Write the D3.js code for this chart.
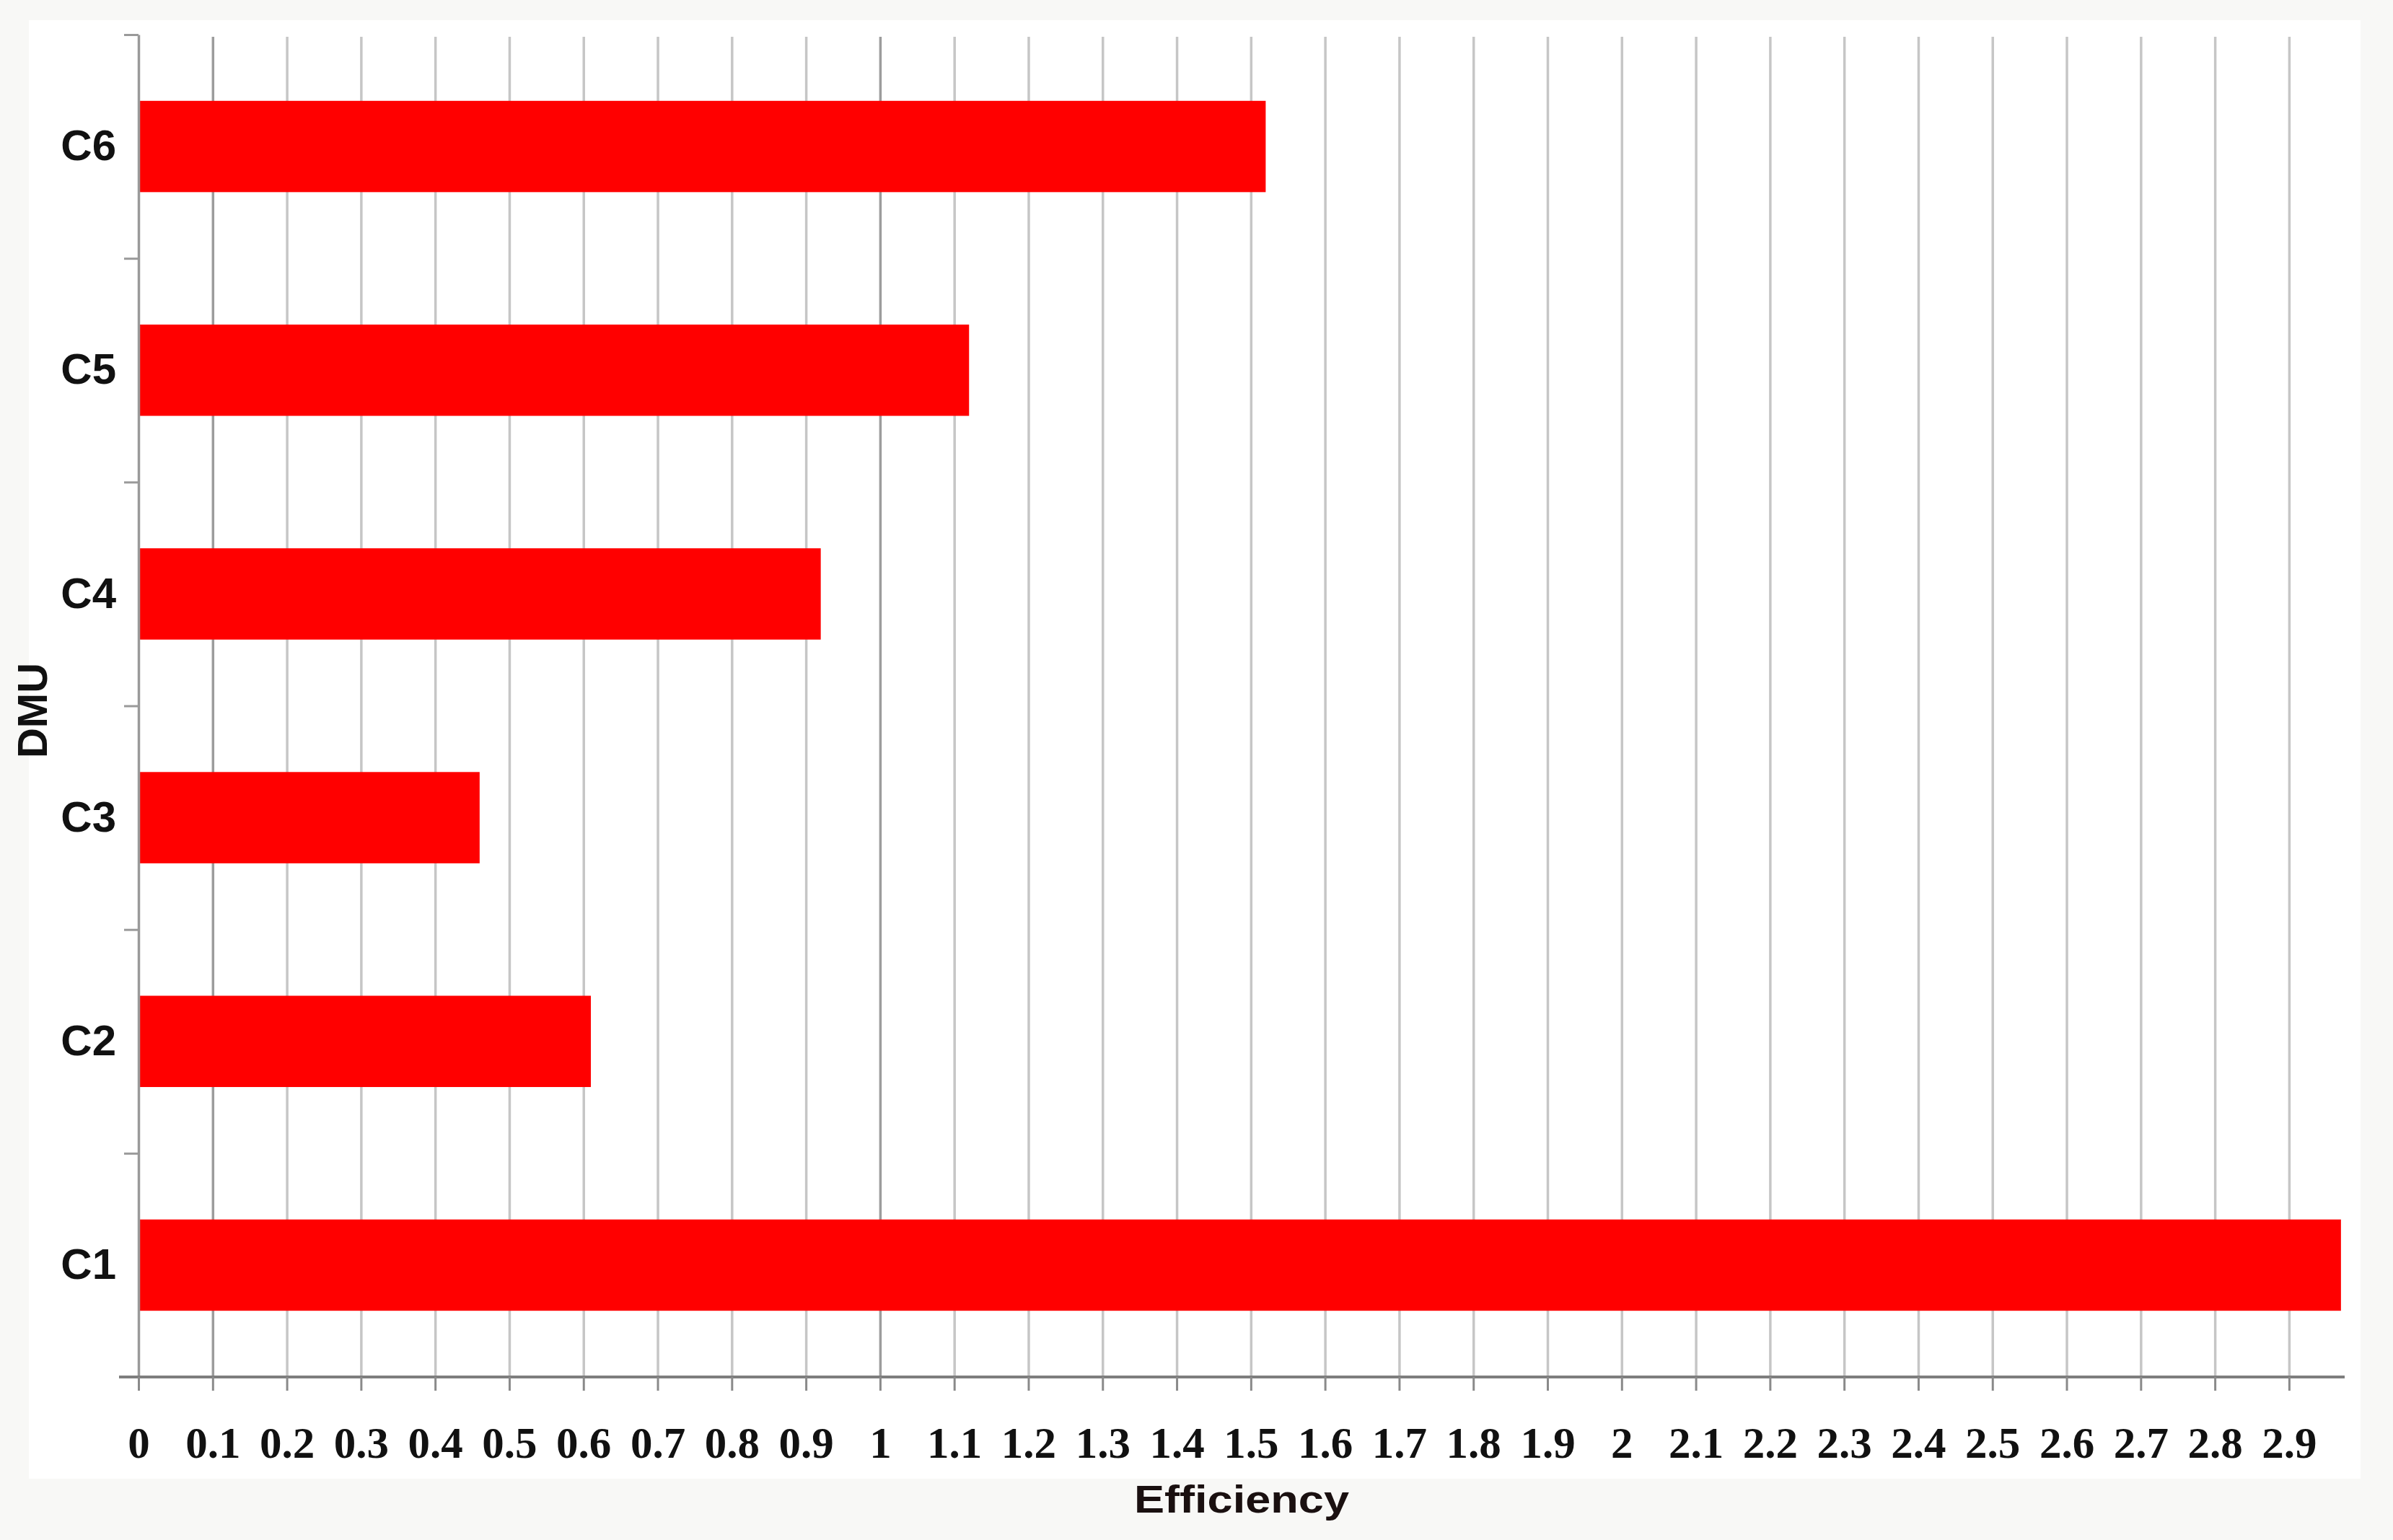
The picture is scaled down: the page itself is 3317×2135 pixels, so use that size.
<!DOCTYPE html>
<html>
<head>
<meta charset="utf-8">
<script src="https://cdn.jsdelivr.net/npm/d3@7"></script>
<style>
  html, body { margin: 0; padding: 0; background: #f8f8f6; }
  svg { display: block; }
</style>
</head>
<body>
<script>
// data
const categories = ['C6', 'C5', 'C4', 'C3', 'C2', 'C1'];
const efficiency = [1.52, 1.12, 0.92, 0.46, 0.61, 2.97];
const xTicks = [0, 0.1, 0.2, 0.3, 0.4, 0.5, 0.6, 0.7, 0.8, 0.9, 1,
  1.1, 1.2, 1.3, 1.4, 1.5, 1.6, 1.7, 1.8, 1.9, 2,
  2.1, 2.2, 2.3, 2.4, 2.5, 2.6, 2.7, 2.8, 2.9];
const xMax = 2.975;
const xTitle = 'Efficiency';
const yTitle = 'DMU';

// global variable
const barColor = '#ff0000';
var width = 3317;
var height = 2135;
var plotLeft = 192, plotRight = 3250, plotTop = 48, plotBottom = 1909;
var x, y, yEdge, svg;

svg = d3.select('body').append('svg')
  .attr('width', width)
  .attr('height', height);

// white paper behind the chart
svg.append('rect')
  .attr('x', 40).attr('y', 28)
  .attr('width', 3232).attr('height', 2022)
  .attr('fill', '#ffffff');

x = d3.scaleLinear().domain([0, xMax]).range([plotLeft, plotRight]);
y = d3.scaleBand().domain(categories).range([plotTop, plotBottom])
  .paddingInner(0.592).paddingOuter(0.296);
yEdge = d3.scaleLinear().domain([0, categories.length]).range([plotTop, plotBottom]);

drawGridlines();
drawBars();
configureYaxis();
configureXaxis();
drawTitles();

function drawGridlines() {
  var grid = svg.append('g')
    .attr('transform', 'translate(0,' + plotBottom + ')')
    .call(d3.axisBottom(x).tickValues(xTicks.slice(1)).tickSize(-(plotBottom - plotTop - 3)).tickFormat(''));
  grid.select('.domain').remove();
  grid.selectAll('line')
    .attr('stroke', d => (d === 0.1 || d === 1) ? '#9c9c9c' : '#c6c6c6')
    .attr('stroke-width', 3.5);
}

function drawBars() {
  svg.append('g')
    .selectAll('rect')
    .data(categories)
    .join('rect')
    .attr('x', x(0))
    .attr('y', d => y(d))
    .attr('height', y.bandwidth())
    .attr('width', (d, i) => x(efficiency[i]) - x(0))
    .attr('fill', barColor);
}

function configureYaxis() {
  // ticks on the band edges
  var edges = svg.append('g')
    .attr('transform', 'translate(' + plotLeft + ',0)')
    .call(d3.axisLeft(yEdge).ticks(categories.length).tickSize(20).tickSizeOuter(0).tickFormat(''));
  edges.select('.domain').attr('stroke', '#9a9a9a').attr('stroke-width', 3.5);
  edges.selectAll('line').attr('stroke', '#9a9a9a').attr('stroke-width', 3);

  var labels = svg.append('g')
    .attr('transform', 'translate(' + plotLeft + ',0)')
    .call(d3.axisLeft(y).tickSize(0).tickPadding(31));
  labels.select('.domain').remove();
  labels.selectAll('text')
    .attr('font-family', '"Liberation Sans", Arial, sans-serif')
    .attr('font-weight', 'bold')
    .attr('font-size', 60)
    .attr('fill', '#111');
}

function configureXaxis() {
  var ax = svg.append('g')
    .attr('transform', 'translate(0,' + plotBottom + ')')
    .call(d3.axisBottom(x).tickValues(xTicks).tickSize(19).tickSizeOuter(0).tickFormat(d => String(d)));
  ax.select('.domain')
    .attr('d', 'M' + (plotLeft - 27) + ',0H' + plotRight)
    .attr('stroke', '#7e7e7e')
    .attr('stroke-width', 4);
  ax.selectAll('line').attr('stroke', '#8a8a8a').attr('stroke-width', 3);
  ax.selectAll('text')
    .attr('y', 112)
    .attr('dy', 0)
    .attr('font-family', '"Liberation Serif", "Times New Roman", serif')
    .attr('font-weight', 'bold')
    .attr('font-size', 61)
    .attr('fill', '#111');
}

function drawTitles() {
  svg.append('text')
    .attr('x', (plotLeft + plotRight) / 2)
    .attr('y', 2097)
    .attr('text-anchor', 'middle')
    .attr('font-family', '"Liberation Sans", Arial, sans-serif')
    .attr('font-weight', 'bold')
    .attr('font-size', 54)
    .attr('textLength', 298)
    .attr('lengthAdjust', 'spacingAndGlyphs')
    .attr('fill', '#1a1010')
    .text(xTitle);

  svg.append('text')
    .attr('transform', 'translate(65,' + 985 + ') rotate(-90)')
    .attr('text-anchor', 'middle')
    .attr('font-family', '"Liberation Sans", Arial, sans-serif')
    .attr('font-weight', 'bold')
    .attr('font-size', 58)
    .attr('fill', '#111')
    .text(yTitle);
}
</script>
</body>
</html>
